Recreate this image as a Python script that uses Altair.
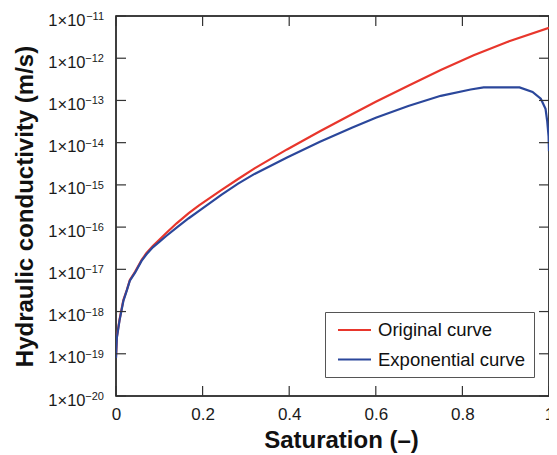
import altair as alt
import pandas as pd

# ---- data ----
series_names = ["Original curve", "Exponential curve"]
series_colors = ["#e8362c", "#2b479b"]

sat_red = [0.0, 0.002, 0.008, 0.017, 0.025, 0.032, 0.044, 0.059, 0.070, 0.085,
           0.10, 0.116, 0.14, 0.168, 0.191, 0.244, 0.282, 0.32, 0.395, 0.471,
           0.546, 0.60, 0.675, 0.75, 0.826, 0.902, 1.0]
log10K_red = [-19.07, -18.6, -18.2, -17.73, -17.49, -17.25, -17.06, -16.78, -16.62, -16.45,
              -16.3, -16.14, -15.91, -15.67, -15.49, -15.12, -14.86, -14.61, -14.16, -13.73,
              -13.32, -13.03, -12.65, -12.28, -11.93, -11.62, -11.28]

sat_blue = [0.0, 0.002, 0.008, 0.017, 0.025, 0.032, 0.044, 0.059, 0.070, 0.085,
            0.10, 0.116, 0.14, 0.168, 0.191, 0.244, 0.282, 0.32, 0.395, 0.471,
            0.546, 0.60, 0.675, 0.75, 0.819, 0.849, 0.89, 0.932, 0.962,
            0.981, 0.992, 0.996, 0.999, 1.0]
log10K_blue = [-19.1, -18.62, -18.22, -17.75, -17.5, -17.27, -17.08, -16.8, -16.65, -16.48,
               -16.35, -16.21, -16.01, -15.79, -15.62, -15.23, -14.97, -14.74, -14.35, -13.98,
               -13.64, -13.41, -13.13, -12.89, -12.74, -12.69, -12.69, -12.69, -12.8,
               -12.96, -13.2, -13.5, -13.85, -14.2]

x_ticks = [0, 0.2, 0.4, 0.6, 0.8, 1.0]
y_exponents = [-11, -12, -13, -14, -15, -16, -17, -18, -19, -20]

FONT = "Liberation Sans, Arial, Helvetica, sans-serif"
W, H = 433, 380

y_vals = [10.0 ** e for e in y_exponents]
y_exp_text = ["\u2212" + str(-e) for e in y_exponents]

df = pd.DataFrame({
    "S": sat_red + sat_blue,
    "K": [10.0 ** v for v in log10K_red + log10K_blue],
    "curve": [series_names[0]] * len(sat_red) + [series_names[1]] * len(sat_blue),
})

xscale = alt.Scale(domain=[0, 1], nice=False, zero=False)
yscale = alt.Scale(type="log", domain=[1e-20, 1e-11], nice=False)

xaxis = alt.Axis(values=x_ticks, format="~g", title="Saturation (–)",
                 labelFlush=False, labelOverlap=False, labelPadding=10,
                 labelFontSize=17, titleFontSize=24, titleFontWeight="bold",
                 titleX=225, titleY=51, titleBaseline="alphabetic")
yaxis = alt.Axis(values=y_vals, labelExpr="'1×10'", title="Hydraulic conductivity (m/s)",
                 labelFlush=False, labelOverlap=False, labelPadding=31, labelOffset=4,
                 labelFontSize=16.5, titleFontSize=24, titleFontWeight="bold",
                 titleX=-84, titleY=H / 2, titleBaseline="alphabetic")

lines = alt.Chart(df).mark_line(strokeWidth=2.2, clip=True).encode(
    x=alt.X("S:Q", scale=xscale, axis=xaxis),
    y=alt.Y("K:Q", scale=yscale, axis=yaxis),
    color=alt.Color("curve:N", sort=series_names,
                    scale=alt.Scale(domain=series_names, range=series_colors),
                    legend=alt.Legend(title=None, orient="none", legendX=209, legendY=296,
                                      symbolType="M-0.556,0H3.111", symbolSize=324,
                                      symbolStrokeWidth=2, labelFontSize=18.5,
                                      labelFont=FONT, labelColor="#111111",
                                      labelOffset=25, labelLimit=400, padding=8,
                                      rowPadding=9.5, strokeColor="#555555",
                                      fillColor="white")),
)

yt = pd.DataFrame({"K": y_vals, "exp": y_exp_text})
xt = pd.DataFrame({"S": x_ticks})
tick_style = dict(color="#333333", strokeWidth=1.2)

exponents = alt.Chart(yt).mark_text(align="right", baseline="middle", fontSize=11,
                                    font=FONT, color="#1a1a1a", dy=1).encode(
    y=alt.Y("K:Q", scale=yscale, axis=yaxis), x=alt.value(-12), text="exp:N")
left_ticks = alt.Chart(yt).mark_rule(**tick_style).encode(
    y=alt.Y("K:Q", scale=yscale, axis=yaxis), x=alt.value(0), x2=alt.value(10))
right_ticks = alt.Chart(yt).mark_rule(**tick_style).encode(
    y=alt.Y("K:Q", scale=yscale, axis=yaxis), x=alt.value(W - 10), x2=alt.value(W))
bottom_ticks = alt.Chart(xt).mark_rule(**tick_style).encode(
    x=alt.X("S:Q", scale=xscale, axis=xaxis), y=alt.value(H - 10), y2=alt.value(H))
top_ticks = alt.Chart(xt).mark_rule(**tick_style).encode(
    x=alt.X("S:Q", scale=xscale, axis=xaxis), y=alt.value(0), y2=alt.value(10))

chart = alt.layer(lines, exponents, left_ticks, right_ticks, bottom_ticks, top_ticks).properties(
    width=W, height=H,
    padding={"left": 108, "top": 8, "right": 0, "bottom": 58},
    autosize=alt.AutoSizeParams(type="none"),
).configure_view(
    stroke="black", strokeWidth=1.5
).configure_axis(
    grid=False, domain=False, ticks=False,
    labelFont=FONT, titleFont=FONT, labelColor="#1a1a1a", titleColor="#111111",
)

chart.save("out.html", embed_options={"renderer": "svg", "actions": False})
